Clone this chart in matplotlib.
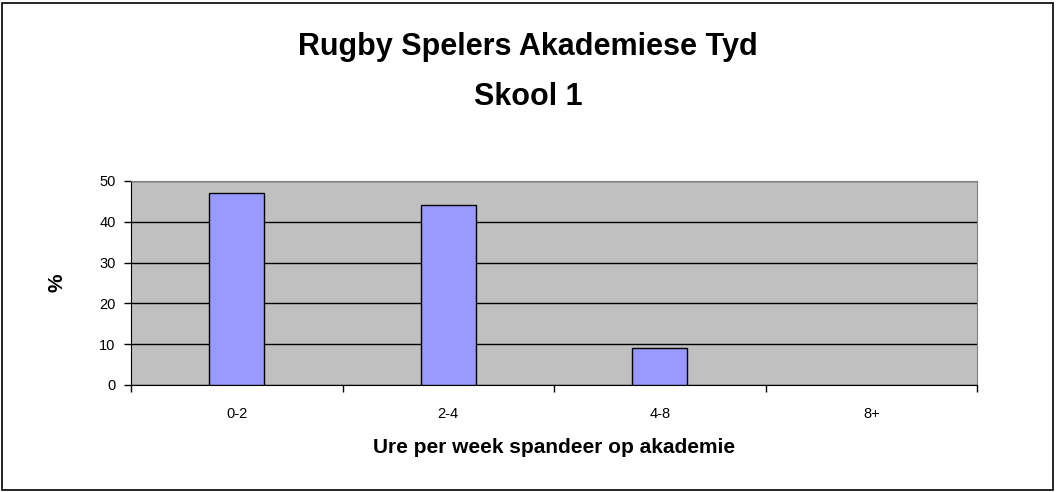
import matplotlib.pyplot as plt
from matplotlib.patches import Rectangle

# ── Data ──────────────────────────────────────────────────────────────────────
categories = ["0-2", "2-4", "4-8", "8+"]
percent    = [47, 44, 9, 0]
y_ticks    = [0, 10, 20, 30, 40, 50]

plt.rcParams["font.family"] = ["Liberation Sans", "DejaVu Sans"]

fig = plt.figure(figsize=(10.56, 4.92), dpi=100)
W, H = 1056, 492
ax = fig.add_axes([131 / W, 1 - 385 / H, (977 - 131) / W, (385 - 181) / H])

# outer chart border
fig.patches.append(Rectangle((2 / W, 2 / H), 1051 / W, 487 / H, transform=fig.transFigure,
                             fill=False, edgecolor="black", linewidth=1.2))

ax.set_facecolor("#C0C0C0")
x = range(len(categories))
# zero-height bars are not outlined (as in the original chart)
edge_w = [1 if v > 0 else 0 for v in percent]
ax.bar(x, percent, width=0.26, color="#9999FF", edgecolor="black", linewidth=edge_w, zorder=3)

ax.set_xlim(-0.5, len(categories) - 0.5)
ax.set_ylim(0, 50)
ax.set_yticks(y_ticks)
ax.yaxis.grid(True, color="black", linewidth=1, zorder=0)
ax.set_axisbelow(True)

ax.set_xticks(list(x))
ax.set_xticklabels(categories, fontsize=10.5)
ax.set_xticks([i - 0.5 for i in range(len(categories) + 1)], minor=True)
ax.tick_params(axis="x", which="major", length=0, pad=16)
ax.tick_params(axis="x", which="minor", length=5, width=1, color="black")
ax.tick_params(axis="y", length=5, width=1, labelsize=10.5, pad=6)

for side in ["top", "right"]:
    ax.spines[side].set_color("#808080")
ax.spines["bottom"].set_color("black")
ax.spines["left"].set_color("black")

ax.set_ylabel("%", fontsize=15, fontweight="bold", labelpad=24)
ax.set_xlabel("Ure per week spandeer op akademie", fontsize=15, fontweight="bold", labelpad=12)

fig.text(0.5, 1 - 47 / H, "Rugby Spelers Akademiese Tyd", ha="center", va="center",
         fontsize=22, fontweight="bold")
fig.text(0.5, 1 - 97 / H, "Skool 1", ha="center", va="center",
         fontsize=22, fontweight="bold")

fig.savefig("out.png", dpi=100)
